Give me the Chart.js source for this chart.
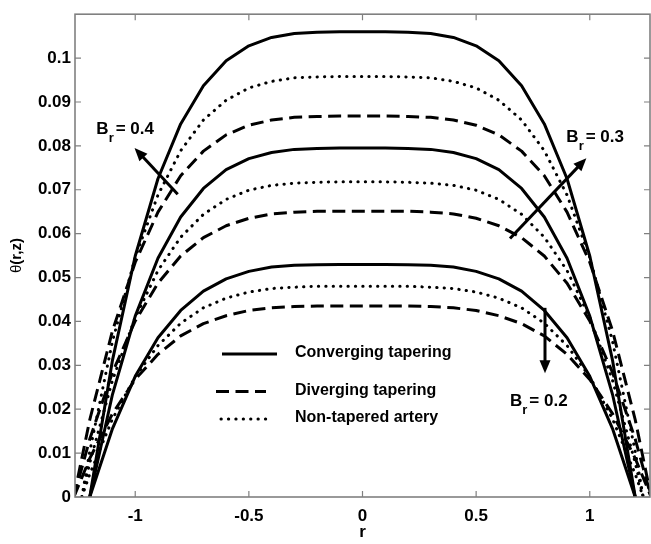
<!DOCTYPE html>
<html><head><meta charset="utf-8">
<script src="https://cdn.jsdelivr.net/npm/chart.js@4.4.0/dist/chart.umd.min.js"></script>
<style>html,body{margin:0;padding:0;background:#fff;}#wrap{width:651px;height:544px;}</style>
</head><body><div id="wrap"><canvas id="c" width="651" height="544"></canvas></div>
<script>
// ---- data ----
const rConv = [-1.2,-1.1,-1.0,-0.9,-0.8,-0.7,-0.6,-0.5,-0.4,-0.3,-0.2,-0.1,0,0.1,0.2,0.3,0.4,0.5,0.6,0.7,0.8,0.9,1.0,1.1,1.2];
const rNon  = [-1.235,-1.2,-1.1,-1.0,-0.9,-0.8,-0.7,-0.6,-0.5,-0.4,-0.3,-0.2,-0.1,0,0.1,0.2,0.3,0.4,0.5,0.6,0.7,0.8,0.9,1.0,1.1,1.2,1.235];
const rDiv  = [-1.27,-1.2,-1.1,-1.0,-0.9,-0.8,-0.7,-0.6,-0.5,-0.4,-0.3,-0.2,-0.1,0,0.1,0.2,0.3,0.4,0.5,0.6,0.7,0.8,0.9,1.0,1.1,1.2,1.27];

const conv04 = [0,0.0312,0.0549,0.0725,0.0850,0.0937,0.0994,0.1028,0.1047,0.1056,0.1059,0.106,0.106,0.106,0.1059,0.1056,0.1047,0.1028,0.0994,0.0937,0.0850,0.0725,0.0549,0.0312,0];
const conv03 = [0,0.0234,0.0412,0.0544,0.0638,0.0703,0.0746,0.0771,0.0785,0.0792,0.0794,0.0795,0.0795,0.0795,0.0794,0.0792,0.0785,0.0771,0.0746,0.0703,0.0638,0.0544,0.0412,0.0234,0];
const conv02 = [0,0.0156,0.0275,0.0363,0.0425,0.0469,0.0497,0.0514,0.0524,0.0528,0.0529,0.053,0.053,0.053,0.0529,0.0528,0.0524,0.0514,0.0497,0.0469,0.0425,0.0363,0.0275,0.0156,0];

const non04 = [0,0.0104,0.0355,0.0546,0.0688,0.0789,0.0859,0.0904,0.0932,0.0947,0.0955,0.0957,0.0958,0.0958,0.0958,0.0957,0.0955,0.0947,0.0932,0.0904,0.0859,0.0789,0.0688,0.0546,0.0355,0.0104,0];
const non03 = [0,0.0078,0.0266,0.0409,0.0516,0.0592,0.0644,0.0678,0.0699,0.0710,0.0715,0.0717,0.0718,0.0718,0.0718,0.0717,0.0715,0.0710,0.0699,0.0678,0.0644,0.0592,0.0516,0.0409,0.0266,0.0078,0];
const non02 = [0,0.0052,0.0178,0.0274,0.0345,0.0396,0.0431,0.0453,0.0467,0.0475,0.0478,0.048,0.048,0.048,0.048,0.048,0.0478,0.0475,0.0467,0.0453,0.0431,0.0396,0.0345,0.0274,0.0178,0.0052,0];

const div04 = [0,0.0176,0.0379,0.0535,0.0649,0.0732,0.0788,0.0825,0.0847,0.0859,0.0865,0.0867,0.0868,0.0868,0.0868,0.0867,0.0865,0.0859,0.0847,0.0825,0.0788,0.0732,0.0649,0.0535,0.0379,0.0176,0];
const div03 = [0,0.0132,0.0284,0.0401,0.0487,0.0549,0.0591,0.0618,0.0635,0.0645,0.0649,0.0651,0.0651,0.0651,0.0651,0.0651,0.0649,0.0645,0.0635,0.0618,0.0591,0.0549,0.0487,0.0401,0.0284,0.0132,0];
const div02 = [0,0.0088,0.019,0.0268,0.0325,0.0367,0.0395,0.0413,0.0425,0.0431,0.0434,0.0435,0.0435,0.0435,0.0435,0.0435,0.0434,0.0431,0.0425,0.0413,0.0395,0.0367,0.0325,0.0268,0.019,0.0088,0];

const xTickValues = [-1,-0.5,0,0.5,1];
const xTickLabels = ['-1','-0.5','0','0.5','1'];
const yTickValues = [0,0.01,0.02,0.03,0.04,0.05,0.06,0.07,0.08,0.09,0.1];
const yTickLabels = ['0','0.01','0.02','0.03','0.04','0.05','0.06','0.07','0.08','0.09','0.1'];

const legendLabels = ['Converging tapering','Diverging tapering','Non-tapered artery'];
const brLabels = ['0.4','0.3','0.2'];

// ---- styling ----
const FONT = '"Liberation Sans", Arial, Helvetica, sans-serif';
const styleSolid  = {borderDash: [], borderCapStyle: 'butt'};
const styleDash   = {borderDash: [13, 6.5], borderCapStyle: 'butt'};
const styleDot    = {borderDash: [0.3, 7.1], borderCapStyle: 'round'};

function pts(rs, ys){ return rs.map((r,i)=>({x:r, y:ys[i]})); }
function ds(rs, ys, st){
  return Object.assign({data: pts(rs, ys), borderColor:'#000', borderWidth:3, pointRadius:0,
    tension:0, fill:false, borderJoinStyle:'round'}, st);
}
const datasets = [
  ds(rConv, conv04, styleSolid), ds(rNon, non04, styleDot), ds(rDiv, div04, styleDash),
  ds(rConv, conv03, styleSolid), ds(rNon, non03, styleDot), ds(rDiv, div03, styleDash),
  ds(rConv, conv02, styleSolid), ds(rNon, non02, styleDot), ds(rDiv, div02, styleDash)
];

// annotation placement (data coordinates)
const arrows = [
  {from:[-0.813,0.069], to:[-1.003,0.0795], label:brLabels[0], at:[-1.171,0.0838]},
  {from:[0.649,0.0589], to:[0.985,0.0772], label:brLabels[1], at:[0.897,0.0819]},
  {from:[0.803,0.0431], to:[0.803,0.0282], label:brLabels[2], at:[0.649,0.0218]}
];

const deco = {
  id:'deco',
  afterDatasetsDraw(chart){
    const ctx = chart.ctx, a = chart.chartArea;
    const xs = chart.scales.x, ys = chart.scales.y;
    ctx.save();
    // box
    ctx.strokeStyle = '#808080'; ctx.lineWidth = 1.6;
    ctx.strokeRect(a.left, a.top, a.right - a.left, a.bottom - a.top);
    // inward ticks
    ctx.lineWidth = 1.2;
    ctx.beginPath();
    xTickValues.forEach(v=>{
      const p = xs.getPixelForValue(v);
      ctx.moveTo(p, a.bottom); ctx.lineTo(p, a.bottom - 6);
      ctx.moveTo(p, a.top); ctx.lineTo(p, a.top + 6);
    });
    yTickValues.forEach(v=>{
      const p = ys.getPixelForValue(v);
      ctx.moveTo(a.left, p); ctx.lineTo(a.left + 6, p);
      ctx.moveTo(a.right, p); ctx.lineTo(a.right - 6, p);
    });
    ctx.stroke();

    // arrows + labels
    ctx.fillStyle = '#000'; ctx.strokeStyle = '#000';
    arrows.forEach(ar=>{
      const x0 = xs.getPixelForValue(ar.from[0]), y0 = ys.getPixelForValue(ar.from[1]);
      const x1 = xs.getPixelForValue(ar.to[0]), y1 = ys.getPixelForValue(ar.to[1]);
      const ang = Math.atan2(y1 - y0, x1 - x0);
      const hl = 13, hw = 5.5;
      const bx = x1 - hl*Math.cos(ang), by = y1 - hl*Math.sin(ang);
      ctx.lineWidth = 3; ctx.lineCap = 'butt';
      ctx.beginPath(); ctx.moveTo(x0, y0); ctx.lineTo(bx + 2*Math.cos(ang), by + 2*Math.sin(ang)); ctx.stroke();
      ctx.beginPath();
      ctx.moveTo(x1, y1);
      ctx.lineTo(bx + hw*Math.sin(ang), by - hw*Math.cos(ang));
      ctx.lineTo(bx - hw*Math.sin(ang), by + hw*Math.cos(ang));
      ctx.closePath(); ctx.fill();
      // label B_r = v
      let lx = xs.getPixelForValue(ar.at[0]);
      const ly = ys.getPixelForValue(ar.at[1]);
      ctx.textBaseline = 'middle'; ctx.textAlign = 'left';
      ctx.font = 'bold 17px ' + FONT;
      ctx.fillText('B', lx, ly); lx += ctx.measureText('B').width;
      ctx.font = 'bold 13px ' + FONT;
      ctx.fillText('r', lx, ly + 9); lx += ctx.measureText('r').width + 2;
      ctx.font = 'bold 17px ' + FONT;
      ctx.fillText('= ' + ar.label, lx, ly);
    });

    // legend
    const leg = [
      {y:354, st:styleSolid}, {y:391.5, st:styleDash}, {y:419, st:styleDot}
    ];
    leg.forEach((L,i)=>{
      ctx.lineWidth = 3; ctx.setLineDash(L.st.borderDash); ctx.lineCap = L.st.borderCapStyle;
      ctx.beginPath();
      if (i === 1) { ctx.moveTo(216, L.y); ctx.lineTo(266, L.y); }
      else if (i === 2) { ctx.moveTo(221, L.y); ctx.lineTo(270, L.y); }
      else { ctx.moveTo(222, L.y); ctx.lineTo(277, L.y); }
      ctx.stroke();
      ctx.setLineDash([]);
      ctx.font = 'bold 16px ' + FONT; ctx.textAlign = 'left'; ctx.textBaseline = 'middle';
      ctx.fillText(legendLabels[i], 295, L.y - 1);
    });

    // y-axis title θ(r,z)
    ctx.translate(17, (a.top + a.bottom)/2);
    ctx.rotate(-Math.PI/2);
    ctx.textBaseline = 'middle'; ctx.textAlign = 'left';
    ctx.font = '15px ' + FONT; const w1 = ctx.measureText('θ').width;
    ctx.font = 'bold 15px ' + FONT; const w2 = ctx.measureText('(r,z)').width;
    const sx = -(w1 + w2)/2;
    ctx.font = '15px ' + FONT; ctx.fillText('θ', sx, 0);
    ctx.font = 'bold 15px ' + FONT; ctx.fillText('(r,z)', sx + w1, 0);
    ctx.restore();
  }
};

new Chart(document.getElementById('c'), {
  type: 'line',
  data: { datasets },
  options: {
    responsive: false, animation: false, devicePixelRatio: 1,
    layout: { padding: { top: 8, right: 1, left: 0, bottom: 0 } },
    plugins: { legend: { display: false }, tooltip: { enabled: false } },
    scales: {
      x: {
        type: 'linear', min: -1.265, max: 1.265,
        afterBuildTicks: s => { s.ticks = xTickValues.map(v => ({ value: v })); },
        afterFit: s => { s.height = 47; },
        grid: { display: false, drawTicks: false }, border: { display: false },
        ticks: { color: '#000', padding: 9, maxRotation: 0, autoSkip: false,
          font: { family: FONT, size: 17, weight: 'bold' },
          callback: (v) => xTickLabels[xTickValues.indexOf(+(+v).toFixed(2))] },
        title: { display: true, text: 'r', color: '#000', padding: { top: 0, bottom: 1 },
          font: { family: FONT, size: 17, weight: 'bold' } }
      },
      y: {
        type: 'linear', min: 0, max: 0.11,
        afterBuildTicks: s => { s.ticks = yTickValues.map(v => ({ value: v })); },
        afterFit: s => { s.width = 75; },
        grid: { display: false, drawTicks: false }, border: { display: false },
        ticks: { color: '#000', padding: 4, autoSkip: false,
          font: { family: FONT, size: 17, weight: 'bold' },
          callback: (v) => yTickLabels[yTickValues.indexOf(+(+v).toFixed(2))] }
      }
    }
  },
  plugins: [deco]
});
</script></body></html>
